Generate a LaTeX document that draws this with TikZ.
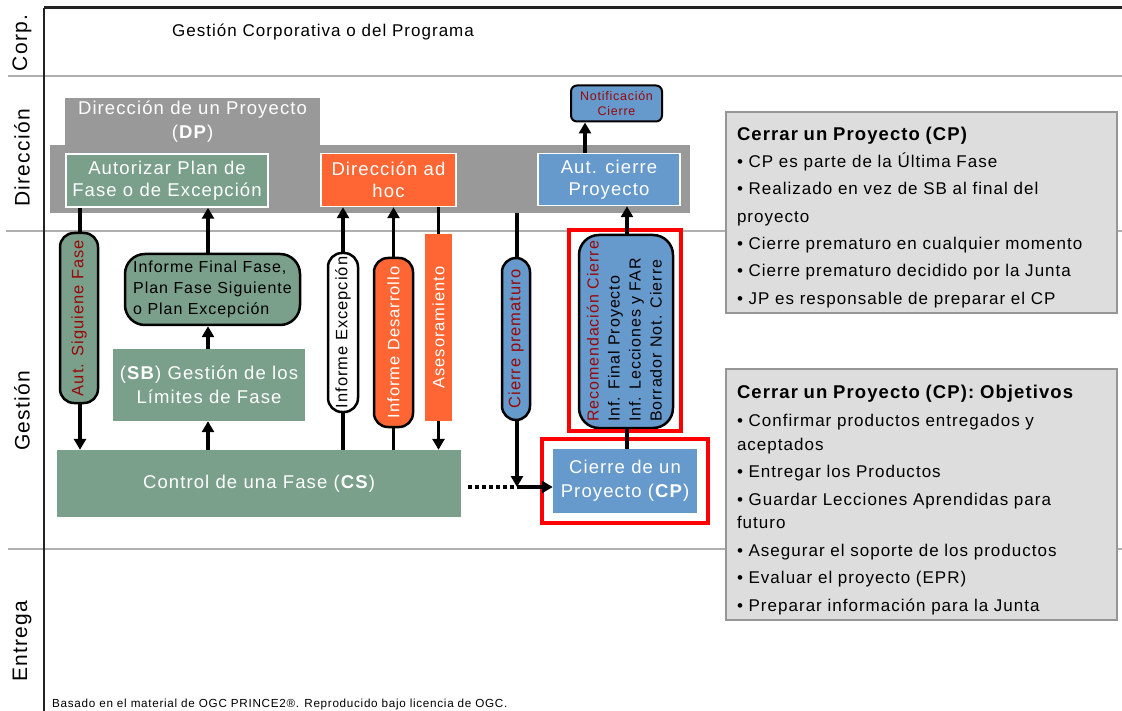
\documentclass[tikz,border=0pt]{standalone}
\usepackage{fontspec}
\usepackage{graphicx}
\setmainfont[LetterSpace=6]{Liberation Sans}
\usetikzlibrary{arrows.meta,calc}
\definecolor{sage}{RGB}{122,160,140}
\definecolor{orng}{RGB}{255,102,51}
\definecolor{blu}{RGB}{102,153,204}
\definecolor{dpgrey}{RGB}{153,153,153}
\definecolor{panelfill}{RGB}{221,221,221}
\definecolor{panelborder}{RGB}{150,150,150}
\definecolor{laneg}{RGB}{175,175,175}
\definecolor{dred}{RGB}{150,10,10}
\definecolor{framek}{RGB}{35,35,35}
\newcommand{\fsz}[2]{\fontsize{#1}{#2}\selectfont}
\begin{document}
\begin{tikzpicture}[x=1pt,y=-1pt,
  conn/.style={line width=3.2pt,black},
  arr/.style={conn,-{Triangle[length=11pt,width=12pt]}},
  dotconn/.style={line width=3.2pt,black,dash pattern=on 4pt off 3pt},
  lane/.style={line width=1.5pt,laneg},
  lanelabel/.style={rotate=90,font=\fsz{21}{25}},
  dbox/.style={draw=white,line width=1.5pt,inner sep=0pt,align=center,text=white,font=\fsz{18.5}{21.5}},
  gbox/.style={inner sep=0pt,align=center,text=white,font=\fsz{18.5}{24}},
  pill/.style={draw=black,line width=2.5pt,rounded corners=14pt,inner sep=0pt,font=\fsz{16.5}{20}},
  redframe/.style={draw=red,line width=3.5pt,inner sep=0pt},
  panel/.style={fill=panelfill,draw=panelborder,line width=2pt,inner xsep=11pt,inner ysep=0pt,text width=369pt,align=left,minimum width=391pt}
]
\useasboundingbox (0,0) rectangle (1122,711);

% lanes
\draw[lane] (8,76) -- (1122,76);
\draw[lane] (6,231) -- (1122,231);
\draw[lane] (8,549) -- (1122,549);
\draw[line width=3pt,framek] (44,8) -- (1122,8);
\draw[line width=2.5pt,framek] (44,8) -- (44,711);

\node[lanelabel] (lcorp) at (22,43) {Corp.};
\node[lanelabel] (ldir) at (22,158) {Dirección};
\node[lanelabel] (lges) at (22,411) {Gestión};
\node[lanelabel] (lent) at (22,641) {Entrega};

\node[anchor=west,inner sep=0pt,font=\fsz{17}{20}] (corp) at (172,32) {Gestión Corporativa o del Programa};

% DP
\node[fill=dpgrey,inner sep=0pt,minimum width=255pt,minimum height=47pt,align=center,text=white,font=\fsz{18.5}{24}] (dptab) at (192.5,121.5) {Dirección de un Proyecto\\(\textbf{DP})};
\node[fill=dpgrey,inner sep=0pt,minimum width=640pt,minimum height=68pt] (dpband) at (370,179) {};

\node[dbox,fill=sage,minimum width=202pt,minimum height=53pt] (autplan) at (167,180.5) {Autorizar Plan de\\Fase o de Excepción};
\node[dbox,fill=orng,minimum width=135pt,minimum height=53pt] (adhoc) at (388.5,180) {Dirección ad\\hoc};
\node[dbox,fill=blu,minimum width=142pt,minimum height=52pt] (autcierre) at (609,179.5) {Aut. cierre\\Proyecto};

\node[draw=black,line width=2pt,rounded corners=6pt,fill=blu,minimum width=91pt,minimum height=36pt,inner sep=0pt,align=center,text=dred,font=\fsz{12.5}{15}] (notif) at (616.5,103.5) {Notificación\\Cierre};

% Gestion
\node[pill,fill=sage,minimum width=38pt,minimum height=170pt,text=dred] (asf) at (79,318) {\rotatebox{90}{Aut. Siguiene Fase}};
\node[draw=black,line width=2.5pt,rounded corners=20pt,fill=sage,minimum width=175pt,minimum height=71pt,inner sep=0pt,align=left,font=\fsz{16}{21}] (infinal) at (212.5,289.5) {Informe Final Fase,\\Plan Fase Siguiente\\o Plan Excepción};
\node[gbox,fill=sage,minimum width=192pt,minimum height=72pt] (sb) at (209,385) {(\textbf{SB}) Gestión de los\\Límites de Fase};
\node[gbox,fill=sage,minimum width=404pt,minimum height=67pt] (cs) at (259,483.5) {Control de una Fase (\textbf{CS})};

\node[pill,fill=white,minimum width=30pt,minimum height=159pt,text=black] (ie) at (343,332.5) {\rotatebox{90}{Informe Excepción}};
\node[pill,fill=orng,minimum width=39pt,minimum height=169pt,text=white] (dev) at (393.5,342.5) {\rotatebox{90}{Informe Desarrollo}};
\node[fill=orng,inner sep=0pt,minimum width=27pt,minimum height=187pt,text=white,font=\fsz{16.5}{20}] (ases) at (438.5,327.5) {\rotatebox{90}{Asesoramiento}};
\node[pill,fill=blu,minimum width=28pt,minimum height=162pt,text=dred] (cpp) at (516,339) {\rotatebox{90}{Cierre prematuro}};

\node[draw=black,line width=2.5pt,rounded corners=20pt,fill=blu,minimum width=94pt,minimum height=193pt,inner sep=0pt,font=\fsz{16}{21}] (rec) at (626,331.5) {\rotatebox{90}{\begin{tabular}{@{}l@{}}\textcolor{dred}{Recomendación Cierre}\\Inf. Final Proyecto\\Inf. Lecciones y FAR\\Borrador Not. Cierre\end{tabular}}};
\node[redframe,minimum width=112pt,minimum height=201pt] (redrec) at (625,330.5) {};

\node[gbox,fill=blu,minimum width=144pt,minimum height=64pt] (cp) at (625,481) {Cierre de un\\Proyecto (\textbf{CP})};
\node[redframe,minimum width=166pt,minimum height=84pt] (redcp) at (625,481) {};

% panels
\node[panel,minimum height=201pt,font=\fsz{17}{27.3}] (p1) at (921.5,212.5) {{\fsz{18.5}{27.3}\rule{0pt}{23pt}\textbf{Cerrar un Proyecto (CP)}}\\
• CP es parte de la Última Fase\\
• Realizado en vez de SB al final del\\
proyecto\\
• Cierre prematuro en cualquier momento\\
• Cierre prematuro decidido por la Junta\\
• JP es responsable de preparar el CP};
\node[panel,minimum height=251pt,font=\fsz{17}{23.5}] (p2) at (921.5,494.5) {{\fsz{18.5}{23.5}\rule{0pt}{24pt}\textbf{Cerrar un Proyecto (CP): Objetivos}}\\[5pt]
• Confirmar productos entregados y\\
aceptados\\[4pt]
• Entregar los Productos\\[4pt]
• Guardar Lecciones Aprendidas para\\
futuro\\[4pt]
• Asegurar el soporte de los productos\\[4pt]
• Evaluar el proyecto (EPR)\\[4pt]
• Preparar información para la Junta};

\node[anchor=west,inner sep=0pt,font=\fsz{11.7}{14}] (foot) at (52,704) {Basado en el material de OGC PRINCE2®. Reproducido bajo licencia de OGC.};

% connectors
\coordinate (xa) at (80,0);
\coordinate (xb) at (208,0);
\coordinate (xn) at (585,0);
\coordinate (xr) at (627,0);
\coordinate (j) at (517,487);

\draw[conn] (autplan.south -| xa) -- (asf.north -| xa);
\draw[arr] (asf.south -| xa) -- (cs.north -| xa);
\draw[arr] (cs.north -| xb) -- (sb.south -| xb);
\draw[arr] (sb.north -| xb) -- (infinal.south -| xb);
\draw[arr] (infinal.north -| xb) -- (autplan.south -| xb);
\draw[conn] (cs.north -| ie) -- (ie.south);
\draw[arr] (ie.north) -- (adhoc.south -| ie);
\draw[conn] (cs.north -| dev) -- (dev.south);
\draw[arr] (dev.north) -- (adhoc.south -| dev);
\draw[conn] (adhoc.south -| ases) -- (ases.north);
\draw[arr] (ases.south) -- (cs.north -| ases);
\draw[conn] (dpband.south -| j) -- (cpp.north -| j);
\draw[arr] (cpp.south -| j) -- (j);
\draw[dotconn] ([xshift=7pt]cs.east |- j) -- (j);
\draw[arr] (j) -- (cp.west |- j);
\draw[conn] (cp.north -| xr) -- (rec.south -| xr);
\draw[arr] (rec.north -| xr) -- (autcierre.south -| xr);
\draw[arr] (autcierre.north -| xn) -- (notif.south -| xn);
\end{tikzpicture}
\end{document}
